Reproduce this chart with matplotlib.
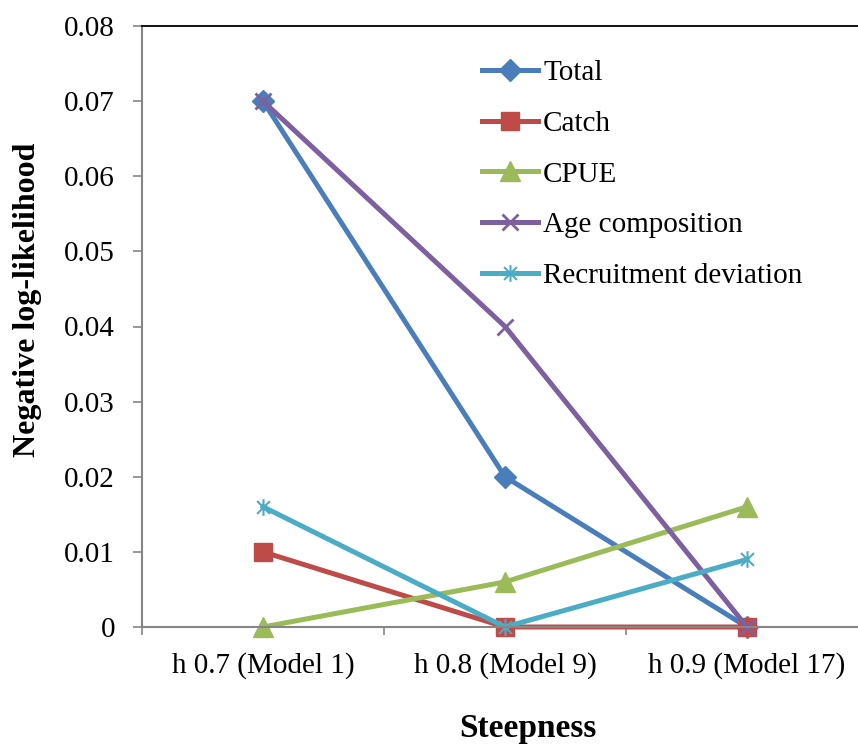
import matplotlib
matplotlib.use("Agg")
import matplotlib.pyplot as plt
from matplotlib.path import Path
from matplotlib.ticker import FixedLocator, NullFormatter

plt.rcParams['font.family'] = ['Liberation Serif', 'DejaVu Serif']

categories = ["h 0.7 (Model 1)", "h 0.8 (Model 9)", "h 0.9 (Model 17)"]
total = [0.07, 0.02, 0.0]
catch = [0.01, 0.0, 0.0]
cpue = [0.0, 0.006, 0.016]
age_comp = [0.07, 0.04, 0.0]
recruit_dev = [0.016, 0.0, 0.009]
yticks = [0, 0.01, 0.02, 0.03, 0.04, 0.05, 0.06, 0.07, 0.08]
ytick_labels = ["0", "0.01", "0.02", "0.03", "0.04", "0.05", "0.06", "0.07", "0.08"]

W, H = 858, 747
fig = plt.figure(figsize=(W / 100, H / 100), dpi=100)
ax = fig.add_axes([142 / W, 1 - 627 / H, (868 - 142) / W, (627 - 26) / H])

asterisk = Path([(-1, -1), (1, 1), (-1, 1), (1, -1), (0, -1.3), (0, 1.3)],
                [Path.MOVETO, Path.LINETO, Path.MOVETO, Path.LINETO, Path.MOVETO, Path.LINETO])

x = list(range(len(categories)))
lw = 3.6
ax.plot(x, total, color='#4A7EBB', lw=lw, marker='D', ms=11, label='Total', clip_on=False)
ax.plot(x, catch, color='#BE4B48', lw=lw, marker='s', ms=13, label='Catch', clip_on=False)
ax.plot(x, cpue, color='#9BBB59', lw=lw, marker='^', ms=14, label='CPUE', clip_on=False)
ax.plot(x, age_comp, color='#7D60A0', lw=lw, marker='x', ms=12, mew=2, label='Age composition', clip_on=False)
ax.plot(x, recruit_dev, color='#4BACC6', lw=lw, marker=asterisk, ms=12, mew=1.5, label='Recruitment deviation', clip_on=False)

ax.set_xlim(-0.5, 2.5)
ax.set_ylim(0, 0.08)
ax.set_yticks(yticks)
ax.set_yticklabels(ytick_labels)
ax.set_xticks(x)
ax.set_xticklabels(categories)
ax.xaxis.set_minor_locator(FixedLocator([-0.5, 0.5, 1.5, 2.5]))
ax.xaxis.set_minor_formatter(NullFormatter())

ax.tick_params(axis='y', which='major', direction='out', length=6.5, width=1.2, color='#868686',
               labelsize=21, pad=13)
ax.tick_params(axis='x', which='major', length=0, labelsize=21, pad=18)
ax.tick_params(axis='x', which='minor', direction='out', length=6, width=1.2, color='#868686')

for s in ['left', 'bottom']:
    ax.spines[s].set_color('#868686')
    ax.spines[s].set_linewidth(1.5)
ax.spines['top'].set_color('black')
ax.spines['top'].set_linewidth(1.3)
ax.spines['right'].set_visible(False)

fig.text(28 / W, 1 - 300 / H, 'Negative log-likelihood', rotation=90, fontsize=23,
         fontweight='bold', ha='center', va='center')
fig.text(528 / W, 1 - 729 / H, 'Steepness', fontsize=24, fontweight='bold',
         ha='center', va='center')

leg = ax.legend(loc='upper left', bbox_to_anchor=(482 / W, 1 - 60 / H),
                bbox_transform=fig.transFigure, frameon=False, fontsize=21,
                handlelength=1.93, handletextpad=0.17, labelspacing=0.83,
                borderpad=0, borderaxespad=0)

fig.savefig('out.png', dpi=100)
